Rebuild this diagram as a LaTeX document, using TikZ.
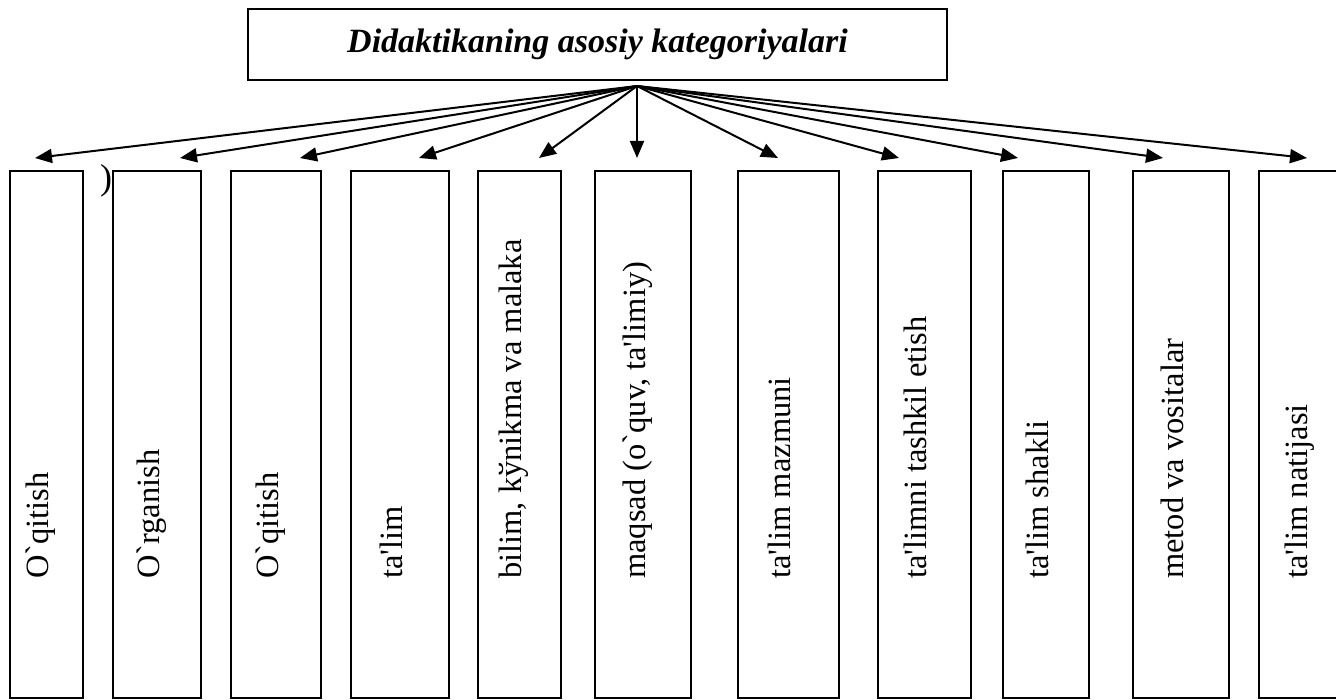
\documentclass[tikz,border=0pt]{standalone}
\usepackage{fontspec}
\setmainfont{Liberation Serif}[Ligatures=TeXOff]
\usetikzlibrary{arrows.meta}

\begin{document}
\begin{tikzpicture}[x=1pt,y=-1pt,
  box/.style={draw,line width=2pt,inner sep=0pt},
  catlabel/.style={rotate=90,anchor=west,inner sep=0pt,
    text height=0.68em,text depth=0.22em,font=\fontsize{32.5}{34}\selectfont},
  link/.style={line width=2pt,-{Triangle[length=17pt,width=14pt]}}]
\useasboundingbox (0,0) rectangle (1336,700);
\node[box,minimum width=699pt,minimum height=71pt,
  font=\fontsize{34}{36}\selectfont\bfseries\itshape] (title) at (597.5,44.5)
  {Didaktikaning asosiy kategoriyalari};
\coordinate (hub) at (637,86);
% category boxes: index/left/right/arrow tip/text
\foreach \i/\l/\r/\t/\txt in {1/10/83/35/{O`qitish},
    2/113/201/180/{O`rganish},
    3/231/321/300/{O`qitish},
    4/351/449/419/{ta'lim},
    5/478/561/539/{bilim, kўnikma va malaka},
    6/595/691/637/{maqsad (o`quv, ta'limiy)},
    7/738/839/778/{ta'lim mazmuni},
    8/878/971/899/{ta'limni tashkil etish},
    9/1003/1089/1018/{ta'lim shakli},
    10/1133/1229/1163/{metod va vositalar},
    11/1259/1351/1307/{ta'lim natijasi}}{
  \node[box,minimum width={\r-\l},minimum height=527pt] (cat\i) at ({(\l+\r)/2},434.5) {};
  \node[catlabel] (lbl\i) at ({(\l+\r)/2},579) {\txt};
  \coordinate (tip\i) at (\t,158);
  \draw[link] (hub) -- (tip\i);
}
\node[inner sep=0pt,font=\fontsize{36}{36}\selectfont] (brk) at (106,181) {)};
\end{tikzpicture}
\end{document}
